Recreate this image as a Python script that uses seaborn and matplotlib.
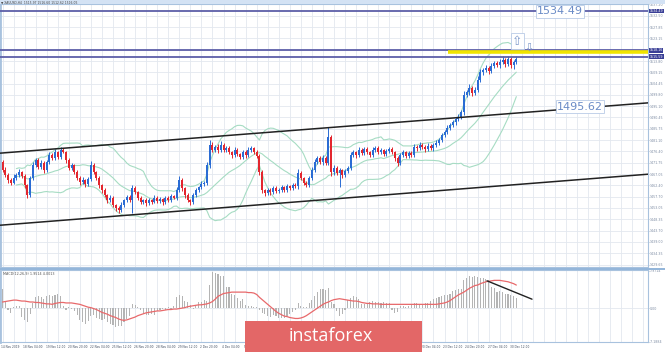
import matplotlib
matplotlib.use("Agg")
import matplotlib.pyplot as plt
import seaborn as sns
import pandas as pd
import numpy as np
from matplotlib.patches import Rectangle

# ------------------------------------------------------------------
# XAUUSD H4, 14 Nov 2019 20:00 .. 30 Dec 2019 20:00

first_open = 1472.0

closes = [
    1468.7, 1466.7, 1464.6, 1463.4, 1465.4, 1466.7, 1467.9, 1466.3, 1462.5, 1458.4,
    1465.4, 1470.8, 1472.9, 1470.0, 1471.6, 1468.7, 1472.0, 1474.9, 1473.7, 1476.2,
    1474.1, 1477.0, 1476.2, 1472.9, 1469.6, 1470.8, 1467.9, 1465.4, 1463.8, 1464.6,
    1463.0, 1465.0, 1470.8, 1467.9, 1465.4, 1462.5, 1460.5, 1458.4, 1456.3, 1457.2,
    1454.3, 1453.0, 1452.2, 1454.3, 1456.3, 1457.6, 1456.3, 1461.3, 1459.6, 1457.2,
    1455.5, 1456.3, 1455.1, 1456.3, 1455.5, 1457.2, 1455.9, 1456.8, 1455.5, 1457.2,
    1456.3, 1458.0, 1457.2, 1460.5, 1464.6, 1461.3, 1458.4, 1456.3, 1455.5, 1458.4,
    1460.5, 1461.7, 1463.0, 1463.4, 1470.8, 1479.1, 1477.0, 1478.3, 1477.0, 1479.1,
    1477.0, 1477.8, 1476.2, 1474.9, 1477.0, 1475.4, 1474.1, 1476.2, 1474.9, 1477.0,
    1477.8, 1476.2, 1474.5, 1467.9, 1460.5, 1459.2, 1460.5, 1459.6, 1461.3, 1460.1,
    1460.5, 1461.7, 1460.5, 1462.1, 1461.3, 1462.5, 1462.1, 1467.5, 1465.4, 1463.4,
    1462.5, 1465.4, 1468.7, 1472.0, 1473.7, 1472.0, 1473.7, 1471.6, 1482.4, 1467.9,
    1469.6, 1467.5, 1468.7, 1466.7, 1468.3, 1469.6, 1474.9, 1476.2, 1474.9, 1477.0,
    1475.8, 1477.4, 1476.2, 1474.9, 1477.0, 1477.8, 1476.2, 1477.0, 1475.4, 1476.6,
    1477.4, 1476.2, 1473.7, 1471.6, 1474.9, 1476.2, 1474.5, 1475.8, 1474.9, 1478.3,
    1477.8, 1479.1, 1478.3, 1477.4, 1478.7, 1477.8, 1479.1, 1479.9, 1481.2, 1483.2,
    1484.5, 1486.1, 1487.4, 1488.6, 1489.8, 1490.7, 1492.7, 1499.8, 1501.0, 1502.7,
    1500.6, 1501.8, 1506.0, 1509.3, 1510.1, 1510.9, 1509.7, 1511.8, 1513.0, 1512.2,
    1513.4, 1514.2, 1512.6, 1514.6, 1512.0, 1513.4, 1514.8,
]

upper_wick = [
    0.8, 1.2, 0.6, 0.9, 1.5, 0.7, 1.1, 0.5, 0.9, 0.6,
    1.0, 1.4, 0.8, 0.6, 1.2, 0.9, 0.7, 1.1, 0.8, 1.3,
    0.6, 1.4, 0.9, 0.5, 0.8, 1.0, 0.6, 0.7, 0.9, 1.2,
    0.5, 0.8, 1.6, 0.7, 0.6, 0.9, 0.5, 0.8, 0.6, 1.0,
    0.7, 0.5, 0.9, 1.1, 0.6, 0.8, 1.0, 1.3, 0.7, 0.5,
    0.8, 0.6, 0.9, 0.7, 0.5, 1.0, 0.6, 0.8, 0.5, 0.9,
    0.7, 1.0, 0.6, 1.2, 1.5, 0.8, 0.6, 0.7, 0.5, 0.9,
    0.8, 0.6, 1.0, 0.7, 1.4, 2.0, 1.2, 0.9, 1.1, 1.5,
    0.8, 1.0, 0.7, 0.6, 1.1, 0.8, 0.5, 0.9, 0.7, 1.2,
    0.9, 0.6, 0.8, 0.7, 0.9, 0.5, 0.8, 0.6, 1.0, 0.7,
    0.6, 0.9, 0.5, 0.8, 0.6, 0.9, 0.7, 1.6, 0.8, 0.5,
    0.7, 0.9, 1.1, 1.3, 0.8, 0.9, 1.2, 0.7, 4.1, 0.9,
    1.2, 0.8, 1.0, 0.6, 0.9, 0.7, 1.3, 1.0, 0.6, 1.2,
    0.8, 0.9, 0.7, 0.6, 1.1, 0.9, 0.7, 0.8, 0.6, 1.0,
    0.9, 0.7, 0.6, 0.8, 1.0, 0.9, 0.6, 0.8, 0.7, 1.2,
    0.9, 1.1, 0.7, 0.8, 1.0, 0.6, 0.9, 1.1, 0.8, 1.0,
    0.9, 1.2, 0.8, 1.0, 0.7, 1.1, 0.9, 1.4, 1.0, 1.6,
    0.9, 1.2, 1.5, 1.3, 0.8, 1.1, 0.9, 1.2, 1.0, 0.8,
    1.3, 1.5, 0.9, 1.1, 0.8, 1.0, 0.9,
]

lower_wick = [
    0.7, 0.9, 1.1, 0.8, 0.6, 1.0, 0.7, 0.9, 1.2, 1.3,
    0.8, 0.6, 0.9, 1.0, 0.7, 1.2, 0.8, 0.6, 0.9, 0.7,
    1.0, 0.8, 0.6, 1.1, 0.9, 0.7, 1.0, 0.8, 1.2, 0.9,
    1.1, 0.7, 0.8, 0.9, 0.6, 1.0, 1.2, 0.9, 1.1, 0.8,
    1.0, 1.3, 1.4, 0.8, 0.7, 0.9, 0.6, 5.3, 0.8, 1.0,
    0.9, 0.7, 1.1, 0.8, 0.9, 0.6, 1.0, 0.8, 1.1, 0.7,
    0.9, 0.8, 0.6, 1.0, 0.9, 1.1, 1.2, 0.9, 1.3, 0.8,
    0.7, 0.9, 0.8, 1.0, 0.9, 1.2, 1.0, 0.8, 1.1, 0.7,
    1.0, 0.8, 0.9, 1.1, 0.7, 1.0, 0.9, 0.8, 1.1, 0.7,
    0.8, 0.9, 1.0, 1.2, 1.4, 1.2, 0.9, 1.0, 0.8, 0.9,
    1.0, 0.8, 0.9, 0.7, 1.0, 0.8, 0.9, 1.1, 0.8, 1.0,
    0.9, 0.7, 0.8, 0.6, 0.9, 0.8, 1.0, 0.7, 0.8, 1.5,
    1.2, 1.0, 5.8, 1.1, 0.9, 1.0, 0.8, 0.9, 1.0, 0.7,
    0.9, 0.8, 1.0, 0.7, 0.9, 0.8, 1.0, 0.7, 0.9, 0.8,
    0.9, 0.7, 1.1, 1.3, 0.8, 0.9, 0.7, 1.0, 0.8, 0.9,
    1.0, 0.8, 0.9, 1.1, 0.7, 0.9, 1.0, 0.8, 0.7, 0.9,
    0.8, 1.0, 0.7, 0.9, 1.1, 0.8, 1.0, 1.2, 0.9, 1.1,
    1.3, 0.9, 1.0, 0.8, 1.1, 0.9, 1.4, 0.8, 1.0, 0.9,
    1.1, 0.8, 1.2, 0.9, 1.0, 1.3, 0.8,
]

# MACD(12,26,9) panel: grey histogram (main) and red signal line
macd_main = [
    4.0, 1.5, -0.3, -1.0, 0.2, 0.5, 0.5, -1.8, -2.6, -3.0,
    -1.2, 1.0, 2.3, 2.5, 2.4, 2.0, 2.6, 2.7, 2.6, 2.8,
    2.9, 2.5, 0.5, -0.4, 0.3, -0.2, -0.7, -1.5, -2.5, -3.0,
    -3.4, -2.8, -1.7, -1.5, -2.0, -2.3, -2.5, -2.4, -3.0, -3.3,
    -3.6, -4.0, -3.9, -3.8, -3.0, -2.4, -1.7, 0.8, 0.6, 0.2,
    -0.5, -1.3, -1.4, -1.5, -1.2, -1.4, -0.6, -0.4, -0.2, -0.5,
    0.3, -0.3, 0.4, 2.4, 2.7, 2.6, 1.5, 1.2, 0.7, -0.2,
    0.4, 1.2, 1.4, 1.8, 1.6, 5.0, 7.6, 7.4, 7.3, 6.9,
    6.8, 4.5, 4.4, 3.0, 2.8, 2.2, 1.5, 2.0, 0.6, 0.5,
    0.4, 0.3, 0.2, -0.5, -1.0, -1.2, -1.6, -1.8, -1.5, -1.7,
    -2.0, -2.2, -2.0, -1.6, -1.2, -0.8, -0.4, 1.0, 0.4, 0.2,
    0.3, 1.0, 1.8, 2.6, 3.4, 4.0, 4.0, 3.8, 4.2, 1.2,
    0.8, -0.7, -1.7, -1.2, -0.5, 1.7, 2.2, 2.5, 2.3, 2.0,
    0.8, 0.9, 1.0, 1.2, 1.5, 1.4, 1.2, 1.1, 1.3, 1.0,
    1.1, -0.4, -1.0, -0.8, 0.4, 0.4, 0.3, 0.4, 0.8, 1.0,
    1.1, 0.9, 0.8, 1.0, 1.1, 1.5, 2.0, 2.2, 2.4, 2.5,
    2.8, 2.7, 3.0, 3.6, 3.8, 4.0, 4.0, 6.0, 6.5, 6.9,
    6.7, 6.8, 6.6, 6.5, 6.4, 6.2, 5.9, 4.5, 4.2, 3.4,
    3.6, 3.5, 3.1, 2.9, 2.7, 2.5, 2.2,
]

macd_signal = [
    1.3, 1.4, 1.5, 1.6, 1.7, 1.7, 1.6, 1.5, 1.5, 1.4,
    1.3, 1.3, 1.2, 1.2, 1.1, 1.0, 0.9, 0.9, 0.8, 1.0,
    1.1, 1.2, 1.2, 1.1, 1.1, 1.1, 1.0, 0.9, 0.8, 0.6,
    0.4, 0.2, 0.1, -0.1, -0.3, -0.6, -0.9, -1.1, -1.3, -1.6,
    -1.8, -2.0, -2.3, -2.5, -2.6, -2.5, -2.3, -2.1, -1.9, -1.6,
    -1.4, -1.2, -1.0, -0.9, -0.8, -0.7, -0.6, -0.6, -0.5, -0.4,
    -0.3, -0.3, -0.2, -0.2, -0.1, 0.0, 0.1, 0.3, 0.4, 0.5,
    0.6, 0.7, 0.7, 0.8, 0.9, 1.1, 1.4, 1.9, 2.5, 2.8,
    3.1, 3.2, 3.3, 3.4, 3.4, 3.4, 3.4, 3.4, 3.4, 3.3,
    3.3, 3.2, 2.9, 2.3, 1.8, 1.3, 0.8, 0.3, -0.2, -0.7,
    -1.1, -1.4, -1.7, -1.8, -2.0, -2.1, -2.2, -2.2, -2.1, -1.9,
    -1.6, -1.2, -0.8, -0.4, 0.0, 0.4, 0.8, 1.1, 1.3, 1.6,
    1.8, 1.9, 2.0, 1.9, 1.8, 1.7, 1.6, 1.5, 1.5, 1.4,
    1.2, 1.1, 1.0, 1.0, 0.9, 0.9, 0.9, 0.8, 0.8, 0.8,
    0.8, 0.8, 0.8, 0.8, 0.8, 0.8, 0.8, 0.8, 0.8, 0.8,
    0.8, 0.8, 0.8, 0.8, 0.8, 0.8, 0.8, 0.8, 0.9, 1.0,
    1.1, 1.3, 1.6, 2.0, 2.4, 2.8, 3.1, 3.4, 3.8, 4.2,
    4.5, 4.8, 4.9, 5.2, 5.4, 5.6, 5.7, 5.8, 5.9, 5.9,
    5.9, 5.8, 5.7, 5.6, 5.4, 5.2, 4.9,
]

date_labels = [
    "14 Nov 2019", "18 Nov 04:00", "19 Nov 12:00", "20 Nov 20:00", "22 Nov 04:00",
    "25 Nov 12:00", "26 Nov 20:00", "28 Nov 04:00", "29 Nov 12:00", "2 Dec 20:00",
    "4 Dec 04:00", "5 Dec 12:00", "6 Dec 20:00", "10 Dec 04:00", "11 Dec 12:00",
    "12 Dec 20:00", "16 Dec 04:00", "17 Dec 12:00", "18 Dec 20:00", "20 Dec 04:00",
    "23 Dec 12:00", "24 Dec 20:00", "27 Dec 04:00", "30 Dec 12:00",
]
bars_per_label = 8

price_ticks = [
    1537.20, 1532.50, 1527.85, 1523.15, 1518.50, 1513.80, 1509.15, 1504.45,
    1499.80, 1495.10, 1490.45, 1485.75, 1481.10, 1476.40, 1471.75, 1467.05,
    1462.40, 1457.70, 1453.05, 1448.35, 1443.70, 1439.00, 1434.35, 1429.65,
]

blue_levels = [1534.49, 1518.16, 1515.59]
yellow_level = 1517.33
upper_channel = [1475.7, 1496.5]
lower_channel = [1445.9, 1467.0]
macd_trend = [5.8, 1.9]
label_upper = "1534.49"
label_channel = "1495.62"

macd_ticks = [7.97, 0.0, -7.19]
macd_tick_labels = ["7.9714", "0.00", "-7.1884"]

header_text = "XAUUSD,H4  1515.97 1516.60 1512.62 1516.05"
macd_text = "MACD(12,26,9) 1.9514 4.0013"

# ------------------------------------------------------------------
W, H = 665, 352


def rect(l, t, r, b):
    return [l / W, 1 - b / H, (r - l) / W, (b - t) / H]


bar_px = 2.7625
x0_px = 2.5


def bx(px):
    # pixel column -> bar index
    return (px - x0_px) / bar_px


sns.set_style("white")
plt.rcParams["font.family"] = ["DejaVu Sans"]

df = pd.DataFrame({"close": closes})
df["open"] = [first_open] + closes[:-1]
df["high"] = df[["open", "close"]].max(axis=1) + np.array(upper_wick)
df["low"] = df[["open", "close"]].min(axis=1) - np.array(lower_wick)
idx = np.arange(len(df))

mid = df["close"].rolling(20, min_periods=6).mean()
sd = df["close"].rolling(20, min_periods=6).std(ddof=0)
bands = pd.DataFrame({"bar": idx, "mid": mid, "up": mid + 2 * sd, "dn": mid - 2 * sd})

fig = plt.figure(figsize=(W / 100, H / 100), dpi=100)
fig.patch.set_facecolor("white")

ax = fig.add_axes(rect(0, 4, 648, 267))
ax2 = fig.add_axes(rect(0, 270, 648, 342))

grid_c = "#e3e8ef"
frame_c = "#a8c2de"
xlim = (bx(0), bx(648))

for a in (ax, ax2):
    a.set_xlim(*xlim)
    for g in range(0, int(xlim[1]) + 1, 4):
        a.axvline(g, color=grid_c, lw=0.6, zorder=0)
    for s in a.spines.values():
        s.set_color(frame_c)
        s.set_linewidth(0.8)
    a.spines["left"].set_linewidth(2.0)
    a.set_xticks([])

# ---- main panel ----
ax.set_ylim(1428.63, 1537.38)
for p in price_ticks:
    ax.axhline(p, color=grid_c, lw=0.6, zorder=0)

bull = df["close"] >= df["open"]
colors = np.where(bull, "#2a6cd4", "#e3262e")
body_lo = df[["open", "close"]].min(axis=1)
body_h = (df["close"] - df["open"]).abs().clip(lower=0.2)
ax.vlines(idx, df["low"], df["high"], colors=colors, lw=0.7, zorder=3)
ax.bar(idx, body_h, bottom=body_lo, width=0.72, color=colors, lw=0, zorder=4)

band_c = "#a6dcc3"
for col in ["up", "mid", "dn"]:
    sns.lineplot(data=bands, x="bar", y=col, ax=ax, color=band_c, lw=0.8, zorder=2)

ax.plot(list(xlim), upper_channel, color="#222222", lw=1.1, zorder=5)
ax.plot(list(xlim), lower_channel, color="#222222", lw=1.1, zorder=5)

for lv in blue_levels:
    ax.axhline(lv, color="#5d5fa8", lw=1.3, zorder=5)
ax.hlines(yellow_level, bx(448), xlim[1], color="#f1e400", lw=2.6, zorder=5)

box = dict(boxstyle="square,pad=0.12", fc="white", ec="#b9cbe6", lw=0.6)
ax.text(bx(560), 1534.3, label_upper, fontsize=8, color="#6a8bc6", ha="center",
        va="center", bbox=box, zorder=7)
ax.text(bx(580), 1494.9, label_channel, fontsize=8, color="#6a8bc6", ha="center",
        va="center", bbox=box, zorder=7)
ax.text(bx(517.5), 1522.0, "\u21e7", fontsize=9, color="#7f9acb", ha="center",
        va="center", zorder=7,
        bbox=dict(boxstyle="square,pad=0.1", fc="white", ec="#b9cbe6", lw=0.6))
ax.text(bx(529), 1519.3, "\u21e9", fontsize=8, color="#7f9acb", ha="center",
        va="center", zorder=7)

ax.yaxis.tick_right()
ax.set_yticks(price_ticks)
ax.set_yticklabels(["%.2f" % p for p in price_ticks])
ax.tick_params(axis="y", labelsize=2.3, colors="#7d8ca3", length=1, width=0.4, pad=0.5)
ax.set_ylabel("")
ax.set_xlabel("")
for lv in blue_levels:
    ax.text(1.0025, lv, "%.2f" % lv, transform=ax.get_yaxis_transform(), fontsize=2.3,
            color="white", va="center", ha="left", zorder=8,
            clip_on=False, bbox=dict(boxstyle="square,pad=0.15", fc="#3a3f96", ec="none"))

# ---- MACD panel ----
ax2.set_ylim(-7.2, 8.1)
ax2.axhline(0, color=grid_c, lw=0.6, zorder=0)
ax2.bar(idx, macd_main, width=0.4, color="#b4b4b4", lw=0, zorder=2)
sns.lineplot(x=idx, y=macd_signal, ax=ax2, color="#e8696b", lw=0.9, zorder=3)
ax2.plot([bx(487), bx(532)], macd_trend, color="#222222", lw=1.0, zorder=4)
ax2.yaxis.tick_right()
ax2.set_yticks(macd_ticks)
ax2.set_yticklabels(macd_tick_labels)
ax2.tick_params(axis="y", labelsize=2.3, colors="#7d8ca3", length=1, width=0.4, pad=0.5)
ax2.set_ylabel("")
ax2.set_xlabel("")
ax2.text(0.005, 0.97, macd_text, transform=ax2.transAxes, fontsize=2.4,
         color="#555555", ha="left", va="top")

for k, lab in enumerate(date_labels):
    ax2.text(k * bars_per_label - 0.4, -0.07, lab, transform=ax2.get_xaxis_transform(),
             fontsize=2.1, color="#3f4b5e", ha="left", va="center", clip_on=False)

# ---- header strip, panel separator, logo ----
fig.patches.append(Rectangle((0, 1 - 4 / H), 1, 4 / H, transform=fig.transFigure,
                             fc="#d3e2f4", ec="none", zorder=0))
fig.text(1 / W, 1 - 2.3 / H, "\u25bc " + header_text, fontsize=2.2, color="#444444",
         ha="left", va="center")
fig.patches.append(Rectangle((0, 1 - 269.5 / H), 1, 2 / H, transform=fig.transFigure,
                             fc="#94b6da", ec="none", zorder=5))
fig.patches.append(Rectangle((245 / W, 0), (422 - 245) / W, (352 - 321) / H,
                             transform=fig.transFigure, fc="#e36767", ec="none", zorder=10))
fig.text(289 / W, 1 - 336 / H, "instaforex", fontsize=13, color="white", ha="left",
         va="center", family="Open Sans", zorder=11)

fig.savefig("out.png", dpi=100)
